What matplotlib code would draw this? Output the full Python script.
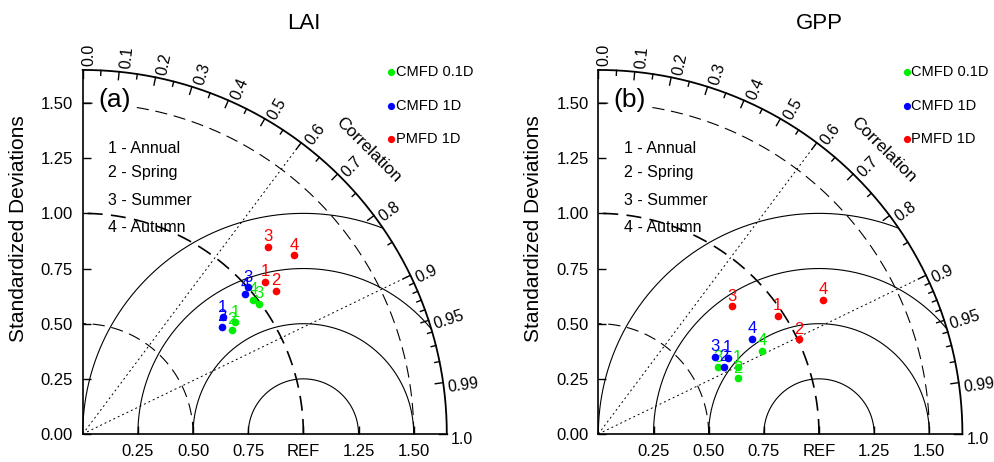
import numpy as np
import matplotlib
matplotlib.use("Agg")
import matplotlib.pyplot as plt

plt.rcParams['font.family'] = ['Liberation Sans', 'DejaVu Sans']

# ---------------- data ----------------
titles = ["LAI", "GPP"]
panel_tags = ["(a)", "(b)"]
series_names = ["CMFD 0.1D", "CMFD 1D", "PMFD 1D"]
series_colors = ["#00ee00", "#0000ff", "#ff0000"]
season_labels = ["1 - Annual", "2 - Spring", "3 - Summer", "4 - Autumn"]
case_ids = ["1", "2", "3", "4"]

# normalized standard deviation (ratio) and correlation, order: Annual, Spring, Summer, Autumn
lai_std_cmfd01 = [0.856, 0.823, 0.993, 0.983]
lai_cor_cmfd01 = [0.806, 0.820, 0.805, 0.786]
lai_std_cmfd1 = [0.826, 0.796, 1.002, 0.970]
lai_cor_cmfd1 = [0.768, 0.792, 0.748, 0.758]
lai_std_pmfd1 = [1.076, 1.090, 1.195, 1.254]
lai_cor_pmfd1 = [0.768, 0.804, 0.704, 0.763]

gpp_std_cmfd01 = [0.700, 0.680, 0.622, 0.832]
gpp_cor_cmfd01 = [0.902, 0.929, 0.874, 0.892]
gpp_std_cmfd1 = [0.681, 0.647, 0.634, 0.820]
gpp_cor_cmfd1 = [0.861, 0.882, 0.834, 0.851]
gpp_std_pmfd1 = [0.973, 1.005, 0.837, 1.186]
gpp_cor_pmfd1 = [0.835, 0.904, 0.722, 0.858]

corr_major = [0.0, 0.1, 0.2, 0.3, 0.4, 0.5, 0.6, 0.7, 0.8, 0.9, 0.95, 0.99, 1.0]
corr_major_labels = ["0.0", "0.1", "0.2", "0.3", "0.4", "0.5", "0.6", "0.7", "0.8",
                     "0.9", "0.95", "0.99", "1.0"]
corr_minor = [0.05, 0.15, 0.25, 0.35, 0.45, 0.55, 0.65, 0.75, 0.85,
              0.91, 0.92, 0.93, 0.94, 0.96, 0.97, 0.98]
sd_ticks = [0.25, 0.5, 0.75, 1.0, 1.25, 1.5]
sd_ticklabels = ["0.25", "0.50", "0.75", "REF", "1.25", "1.50"]
y_ticks = [0.0, 0.25, 0.5, 0.75, 1.0, 1.25, 1.5]
y_ticklabels = ["0.00", "0.25", "0.50", "0.75", "1.00", "1.25", "1.50"]
rms_radii = [0.25, 0.5, 0.75, 1.0]
sd_dash_radii = [0.5, 1.5]
corr_rays = [0.6, 0.9]

panels = [
    (titles[0], panel_tags[0],
     [(lai_std_cmfd01, lai_cor_cmfd01), (lai_std_cmfd1, lai_cor_cmfd1), (lai_std_pmfd1, lai_cor_pmfd1)]),
    (titles[1], panel_tags[1],
     [(gpp_std_cmfd01, gpp_cor_cmfd01), (gpp_std_cmfd1, gpp_cor_cmfd1), (gpp_std_pmfd1, gpp_cor_pmfd1)]),
]

XYMAX = 1.65

fig = plt.figure(figsize=(9.95, 4.62), dpi=100)
lefts = [0.0831, 0.6013]


def draw_panel(ax, title, tag, series):
    ax.set_xlim(0, XYMAX)
    ax.set_ylim(0, XYMAX)
    ax.set_aspect('equal')
    for s in ['top', 'right']:
        ax.spines[s].set_visible(False)
    for s in ['left', 'bottom']:
        ax.spines[s].set_linewidth(1.2)
    ax.set_xticks(sd_ticks)
    ax.set_xticklabels(sd_ticklabels)
    ax.set_yticks(y_ticks)
    ax.set_yticklabels(y_ticklabels)
    ax.tick_params(axis='x', direction='in', length=6, width=1, labelsize=12, pad=7)
    ax.tick_params(axis='y', direction='in', length=6, width=1, labelsize=12, pad=7)

    # outer arc
    th = np.linspace(0, np.pi / 2, 300)
    ax.plot(XYMAX * np.cos(th), XYMAX * np.sin(th), color='k', lw=1.3, clip_on=False)

    # std dev dashed arcs
    for r in sd_dash_radii:
        ax.plot(r * np.cos(th), r * np.sin(th), color='k', lw=0.8,
                dashes=(11, 6), clip_on=False)
    # REF arc (heavier)
    ax.plot(np.cos(th), np.sin(th), color='k', lw=1.2, dashes=(9, 5), clip_on=False)

    # centered RMS circles around REF
    phi = np.linspace(0, np.pi, 600)
    for r in rms_radii:
        x = 1.0 + r * np.cos(phi)
        y = r * np.sin(phi)
        m = np.hypot(x, y) <= XYMAX + 1e-9
        m &= x >= -1e-9
        ax.plot(x[m], y[m], color='k', lw=0.8, clip_on=False)

    # correlation rays
    for c in corr_rays:
        a = np.arccos(c)
        ax.plot([0, XYMAX * np.cos(a)], [0, XYMAX * np.sin(a)], color='k', lw=0.7,
                dashes=(2.0, 3.0), clip_on=False)

    # ticks on outer arc
    for c in corr_major:
        a = np.arccos(c)
        r0 = XYMAX - 0.036
        ax.plot([r0 * np.cos(a), XYMAX * np.cos(a)], [r0 * np.sin(a), XYMAX * np.sin(a)],
                color='k', lw=1.0, clip_on=False)
    for c in corr_minor:
        a = np.arccos(c)
        r0 = XYMAX - 0.022
        ax.plot([r0 * np.cos(a), XYMAX * np.cos(a)], [r0 * np.sin(a), XYMAX * np.sin(a)],
                color='k', lw=1.0, clip_on=False)
    for c, lab in zip(corr_major, corr_major_labels):
        a = np.arccos(c)
        rr = XYMAX + 0.018
        off = 0.027
        x = rr * np.cos(a) + off * np.sin(a)
        y = rr * np.sin(a) - off * np.cos(a)
        ax.text(x, y, lab, rotation=np.degrees(a), rotation_mode='anchor',
                ha='left', va='center', fontsize=11.5, clip_on=False)

    ax.text(1.293, 1.287, "Correlation", rotation=-45, rotation_mode='anchor',
            ha='center', va='center', fontsize=12.5)

    # title
    ax.text(1.0, 1.862, title, ha='center', va='center', fontsize=16)
    # panel tag
    ax.text(0.07, 1.513, tag, ha='left', va='center', fontsize=19,
            bbox=dict(boxstyle='square,pad=0.12', fc='white', ec='none'), zorder=5)
    # y label
    ax.text(-0.293, 0.933, "Standardized Deviations", rotation=90, ha='center',
            va='center', fontsize=15)

    # season legend
    for i, lab in enumerate(season_labels):
        ax.text(0.115, [1.296, 1.183, 1.060, 0.938][i], lab, ha='left', va='center',
                fontsize=11.5)

    # series legend
    for i, (name, col) in enumerate(zip(series_names, series_colors)):
        yy = [1.640, 1.486, 1.337][i]
        ax.plot([1.397], [yy], 'o', color=col, ms=5.2, mec='none', clip_on=False)
        ax.text(1.418, yy, name, ha='left', va='center', fontsize=10.5)

    # data points
    for (std, cor), col in zip(series, series_colors):
        std = np.asarray(std)
        cor = np.asarray(cor)
        x = std * cor
        y = std * np.sin(np.arccos(cor))
        ax.plot(x, y, 'o', color=col, ms=5.5, mec='none', zorder=6, clip_on=False)
        for xi, yi, cid in zip(x, y, case_ids):
            ax.text(xi, yi + 0.012, cid, color=col, ha='center', va='bottom',
                    fontsize=12, zorder=6)


for k, (title, tag, series) in enumerate(panels):
    ax = fig.add_axes([lefts[k], 0.0606, 0.366, 0.788])
    draw_panel(ax, title, tag, series)

fig.savefig("out.png", dpi=100)
